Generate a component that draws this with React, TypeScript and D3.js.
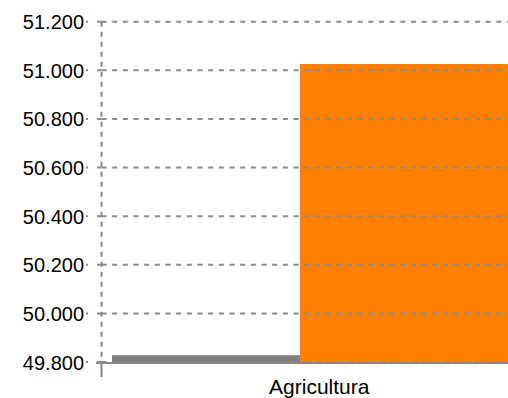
import React from "react";
import * as d3 from "d3";

const categories = ["Agricultura"];
const series = ["Serie A", "Serie B"];
const values = [49828, 51026];
const yTicks = [49800, 50000, 50200, 50400, 50600, 50800, 51000, 51200];
const colors = ["#808080", "#ff8000"];

const W = 508;
const H = 398;

export default function App() {
  const plotLeft = 101.5;
  const bandRight = 537;
  const y = d3.scaleLinear().domain([49800, 51200]).range([362, 21.7]);
  const xCat = d3.scaleBand().domain(categories).range([plotLeft, bandRight]);
  const inner0 = (xCat(categories[0]) as number) + 10.5;
  const xSer = d3.scaleBand().domain(series).range([inner0, inner0 + 376]);
  const plotEnd = bandRight - 11;
  const fmt = (v: number) => d3.format(",.0f")(v).replace(/,/g, ".");
  const font = "Liberation Sans, Arial, sans-serif";

  return (
    <svg
      width={W}
      height={H}
      style={{ position: "absolute", left: 0, top: 0, background: "#fff" }}
    >
      {series.map((s, i) => {
        const x0 = xSer(s) as number;
        const x1 = i < series.length - 1 ? (xSer(series[i + 1]) as number) : plotEnd;
        return (
          <rect
            key={s}
            x={x0}
            y={y(values[i])}
            width={x1 - x0}
            height={y(49800) - y(values[i])}
            fill={colors[i]}
          />
        );
      })}
      {yTicks.map((t) => (
        <g key={t}>
          <line
            x1={plotLeft}
            x2={W}
            y1={y(t)}
            y2={y(t)}
            stroke="#8a8a8a"
            strokeWidth={2}
            strokeDasharray="5,5.67"
          />
          <line
            x1={86}
            x2={plotLeft}
            y1={y(t)}
            y2={y(t)}
            stroke="#8a8a8a"
            strokeWidth={2}
            strokeDasharray="2,9,6"
          />
          <text
            x={84}
            y={y(t) + 7.5}
            textAnchor="end"
            fontFamily={font}
            fontSize={20}
            fill="#000"
          >
            {fmt(t)}
          </text>
        </g>
      ))}
      <line
        x1={plotLeft}
        x2={plotLeft}
        y1={y(51200)}
        y2={y(49800)}
        stroke="#8a8a8a"
        strokeWidth={2}
        strokeDasharray="5,5"
      />
      <line x1={96} x2={W} y1={363} y2={363} stroke="#888" strokeWidth={2} />
      <line x1={plotLeft} x2={plotLeft} y1={362} y2={377} stroke="#888" strokeWidth={2} />
      {categories.map((c) => (
        <text
          key={c}
          x={(xCat(c) as number) + xCat.bandwidth() / 2}
          y={394}
          textAnchor="middle"
          fontFamily={font}
          fontSize={21}
          fill="#000"
        >
          {c}
        </text>
      ))}
    </svg>
  );
}
